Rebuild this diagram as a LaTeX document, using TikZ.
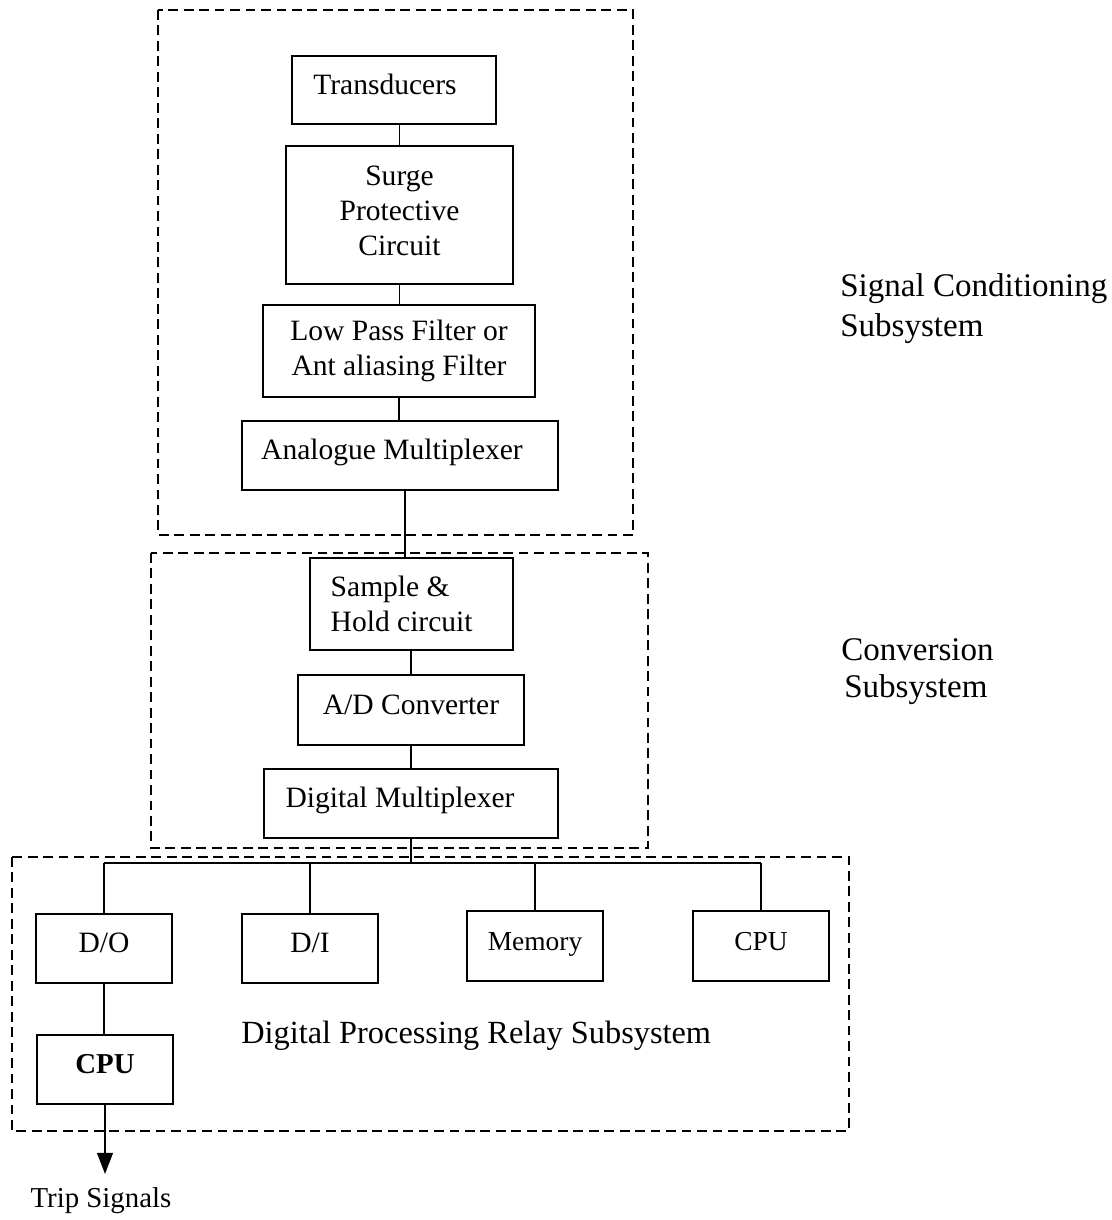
\documentclass[tikz,border=0pt]{standalone}
\usepackage{fontspec}
\setmainfont{Liberation Serif}
\usetikzlibrary{arrows.meta}
\tikzset{
  blk/.style={draw, line width=1.35pt, inner sep=0pt,
    font=\fontsize{21}{25}\selectfont, text height=14.7pt, text depth=8.4pt},
  blkm/.style={draw, line width=1.35pt, inner sep=0pt, align=center,
    font=\fontsize{21}{24.8}\selectfont},
  group/.style={line width=1.2pt, dash pattern=on 7pt off 4pt},
  wire/.style={line width=1.3pt},
  side/.style={font=\fontsize{23.5}{27}\selectfont, anchor=base west, inner sep=0pt},
}
\begin{document}
\begin{tikzpicture}[x=0.025cm, y=-0.025cm]
  \fill[white] (0,0) rectangle (1111,1220);
  \useasboundingbox (0,0) rectangle (1111,1220);

  % subsystem frames
  \draw[group] (158,10) rectangle (633,535);
  \draw[group] (151,553) rectangle (648,848);
  \draw[group] (12,857) rectangle (849,1131);

  % signal conditioning chain
  \node[blk, minimum width=5.1cm, minimum height=1.7cm] (trans) at (394,90) {Transducers\hspace*{12.8pt}};
  \node[blkm, minimum width=5.675cm, minimum height=3.45cm] (surge) at (399.5,215) {Surge\\Protective\\Circuit\\[-19pt]};
  \node[blkm, minimum width=6.8cm, minimum height=2.3cm] (lpf) at (399,351) {Low Pass Filter or\\Ant aliasing Filter};
  \node[blk, minimum width=7.9cm, minimum height=1.725cm] (amux) at (400,455.5) {Analogue Multiplexer\hspace*{11.4pt}};

  % conversion chain
  \node[blkm, align=left, minimum width=5.075cm, minimum height=2.3cm] (sh) at (411.5,604) {Sample \&\\Hold circuit\hspace*{14pt}};
  \node[blk, minimum width=5.65cm, minimum height=1.75cm] (adc) at (411,710) {A/D Converter};
  \node[blk, minimum width=7.35cm, minimum height=1.725cm] (dmux) at (411,803.5) {Digital Multiplexer\hspace*{15.6pt}};

  % digital processing units
  \node[blk, minimum width=3.4cm, minimum height=1.725cm] (do) at (104,948.5) {D/O};
  \node[blk, minimum width=3.4cm, minimum height=1.725cm] (di) at (310,948.5) {D/I};
  \node[blk, font=\fontsize{19.5}{23}\selectfont, minimum width=3.4cm, minimum height=1.75cm] (mem) at (535,946) {Memory};
  \node[blk, font=\fontsize{19.5}{23}\selectfont, minimum width=3.4cm, minimum height=1.75cm] (cpu) at (761,946) {CPU};
  \node[blk, font=\fontsize{20.5}{24}\selectfont\bfseries, minimum width=3.4cm, minimum height=1.725cm] (cpub) at (105,1069.5) {CPU};

  % output label
  \node[font=\fontsize{20.5}{24}\selectfont, anchor=base, inner sep=0pt] (trip) at (101,1207) {Trip Signals};

  % subsystem labels
  \node[side] (sc1) at (840,297) {Signal Conditioning};
  \node[side] (sc2) at (840,336) {Subsystem};
  \node[side] (cv1) at (841,660) {Conversion};
  \node[side] (cv2) at (844,697) {Subsystem};
  \node[font=\fontsize{23}{27}\selectfont, anchor=base west, inner sep=0pt] (dp) at (241,1043) {Digital Processing Relay Subsystem};

  % connectors
  \coordinate (kx) at (405,0);
  \coordinate (bus) at (0,863);
  \draw[wire] (trans.south -| surge.north) -- (surge.north);
  \draw[wire] (surge.south) -- (surge.south |- lpf.north);
  \draw[wire] (lpf.south) -- (lpf.south |- amux.north);
  \draw[wire] (amux.south -| kx) -- (sh.north -| kx);
  \draw[wire] (sh.south -| adc.north) -- (adc.north);
  \draw[wire] (adc.south) -- (dmux.north);
  \draw[wire] (dmux.south) -- (dmux.south |- bus);
  \draw[wire] (do.north |- bus) -- (cpu.north |- bus);
  \draw[wire] (do.north |- bus) -- (do.north);
  \draw[wire] (di.north |- bus) -- (di.north);
  \draw[wire] (mem.north |- bus) -- (mem.north);
  \draw[wire] (cpu.north |- bus) -- (cpu.north);
  \draw[wire] (do.south) -- (do.south |- cpub.north);
  \draw[line width=1.8pt, -{Triangle[length=15pt,width=11pt]}, shorten >=9pt]
    (cpub.south) -- (cpub.south |- trip.north);
\end{tikzpicture}
\end{document}
